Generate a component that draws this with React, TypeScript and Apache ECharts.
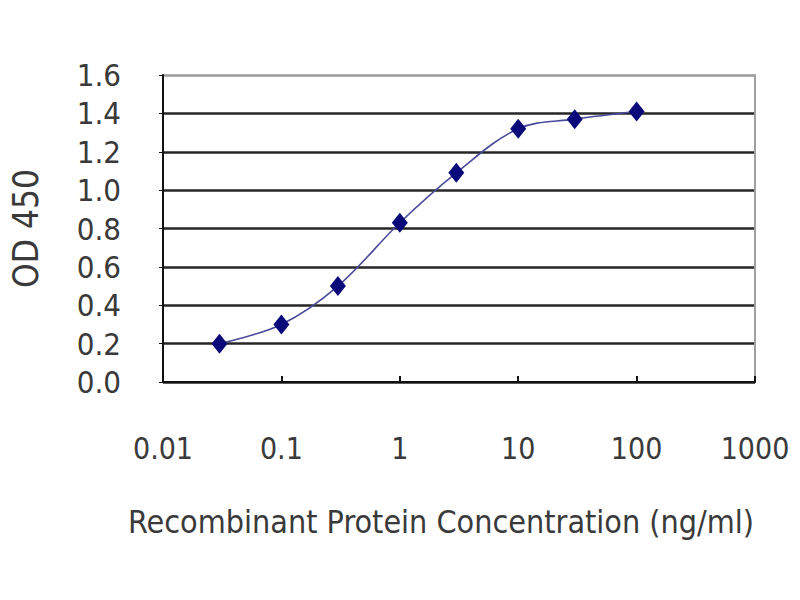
import React, { useEffect, useRef } from "react";
import * as echarts from "echarts";

const concentrations = [0.03, 0.1, 0.3, 1, 3, 10, 30, 100];
const odValues = [0.2, 0.3, 0.5, 0.83, 1.09, 1.32, 1.37, 1.41];
const xTickValues = [0.01, 0.1, 1, 10, 100, 1000];
const xTitle = "Recombinant Protein Concentration (ng/ml)";
const yTitle = "OD 450";

const FONT = "'Liberation Sans Narrow', 'DejaVu Sans Condensed', 'Liberation Sans', Arial, sans-serif";
const TXT = "#3a3a3a";

export default function App() {
  const ref = useRef<HTMLDivElement>(null);
  useEffect(() => {
    if (!ref.current) return;
    const chart = echarts.init(ref.current, null, { renderer: "svg" });
    const gridColors = ["#222", "#262626", "#262626", "#262626", "#262626", "#262626", "#262626", "#262626", "#9a9a9a"];
    chart.setOption({
      animation: false,
      backgroundColor: "#fff",
      grid: { left: 160, right: 45, top: 75, bottom: 218 },
      xAxis: {
        type: "log",
        logBase: 10,
        min: xTickValues[0],
        max: xTickValues[xTickValues.length - 1],
        name: xTitle,
        nameLocation: "middle",
        nameGap: 124,
        nameTextStyle: { fontFamily: FONT, fontSize: 32, color: TXT, padding: [0, 36, 0, 0] },
        axisLine: { lineStyle: { color: "#111", width: 2 } },
        axisTick: { show: true, inside: true, length: 6, lineStyle: { color: "#111", width: 2 } },
        axisLabel: {
          fontFamily: FONT,
          fontSize: 30,
          color: TXT,
          margin: 51,
          formatter: (v: number) => String(Number(v.toPrecision(6))),
        },
        splitLine: { show: false },
      },
      yAxis: [
        {
          type: "value",
          min: 0,
          max: 1.6,
          interval: 0.2,
          name: yTitle,
          nameLocation: "middle",
          nameGap: 120,
          nameRotate: 90,
          nameTextStyle: { fontFamily: FONT, fontSize: 35, color: TXT },
          axisLine: { show: true, lineStyle: { color: "#111", width: 2 } },
          axisTick: { show: true, length: 4, lineStyle: { color: "#111" } },
          axisLabel: {
            fontFamily: FONT,
            fontSize: 31,
            color: TXT,
            margin: 42,
            formatter: (v: number) => v.toFixed(1),
          },
          splitLine: { show: true, lineStyle: { color: gridColors, width: 2.5 } },
        },
        {
          type: "value",
          min: 0,
          max: 1.6,
          interval: 0.2,
          position: "right",
          axisLine: { show: true, lineStyle: { color: "#a0a0a0", width: 2 } },
          axisTick: { show: false },
          axisLabel: { show: false },
          splitLine: { show: false },
        },
      ],
      series: [
        {
          type: "line",
          data: concentrations.map((c, i) => [c, odValues[i]]),
          smooth: 0.35,
          symbol: "diamond",
          symbolSize: [16, 20],
          itemStyle: { color: "#0a0a7a" },
          lineStyle: { color: "#4a4a9a", width: 1.6 },
          z: 5,
        },
      ],
    });
    return () => chart.dispose();
  }, []);
  return <div ref={ref} style={{ position: "absolute", left: 0, top: 0, width: 800, height: 600 }} />;
}
